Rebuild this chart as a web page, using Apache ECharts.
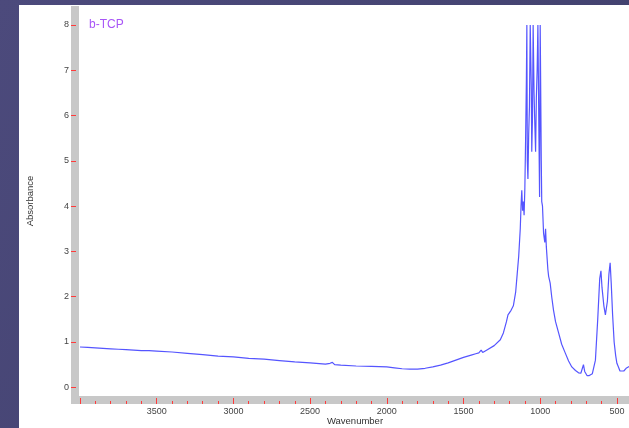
<!DOCTYPE html>
<html>
<head>
<meta charset="utf-8">
<script src="https://cdn.jsdelivr.net/npm/echarts@6/dist/echarts.min.js"></script>
<style>
html,body{margin:0;padding:0;width:629px;height:428px;overflow:hidden;background:#4a4a78;}
#c{width:629px;height:428px;}
</style>
</head>
<body>
<div id="c"></div>
<script>
const titleText = 'b-TCP';
const xName = 'Wavenumber';
const yName = 'Absorbance';
const xTickLabels = [500, 1000, 1500, 2000, 2500, 3000, 3500];
const yTickLabels = [0, 1, 2, 3, 4, 5, 6, 7, 8];
const wavenumber = [
4000,3950,3900,3850,3800,3750,3700,3650,3600,3550,3500,3400,3300,3200,3100,3000,2900,2800,2700,2600,2500,2400,2370,2355,2340,2300,2200,2100,2000,1950,1900,1850,1800,1750,1700,1650,1600,1550,1500,1450,1420,1400,1385,1375,1350,1300,1260,1240,1220,1210,1200,1190,1175,1160,1150,1140,1130,1125,1120,1115,1110,1105,1100,1095,1090,1087,1084,1080,1075,1070,1065,1062,1058,1055,1050,1046,1043,1040,1035,1030,1025,1020,1015,1012,1008,1004,1000,997,993,990,985,978,970,965,960,950,945,935,925,913,900,880,860,837,815,794,770,750,735,725,718,710,695,680,660,640,625,612,604,597,585,575,570,562,552,544,537,528,518,508,500,490,480,467,455,440,420
];
const absorbance = [
0.89,0.88,0.87,0.86,0.85,0.84,0.83,0.82,0.81,0.81,0.80,0.78,0.75,0.72,0.69,0.67,0.64,0.62,0.59,0.56,0.54,0.51,0.53,0.55,0.50,0.49,0.47,0.46,0.45,0.43,0.41,0.40,0.40,0.42,0.45,0.49,0.54,0.60,0.66,0.71,0.74,0.76,0.82,0.77,0.82,0.92,1.05,1.2,1.45,1.6,1.62,1.7,1.8,2.1,2.5,2.9,3.5,4.0,4.35,3.9,4.1,3.8,4.4,5.5,6.8,8,5.0,4.6,5.6,6.2,8,8,6.6,5.2,6.0,8,8,6.5,5.8,5.2,6.4,7.0,8,8,5.5,4.2,8,8,5.0,4.1,4.0,3.4,3.2,3.5,3.1,2.6,2.45,2.3,2.0,1.7,1.45,1.2,0.95,0.76,0.58,0.45,0.37,0.32,0.31,0.42,0.5,0.35,0.26,0.26,0.3,0.6,1.5,2.4,2.57,2.2,1.8,1.6,1.56,1.9,2.5,2.75,2.3,1.6,1.0,0.7,0.53,0.45,0.36,0.32,0.36,0.42,0.46
];

const seriesData = wavenumber.map((w, i) => [w, absorbance[i]]);
const chart = echarts.init(document.getElementById('c'), null, {renderer: 'canvas'});
const font = 'Liberation Sans, Arial, sans-serif';
chart.setOption({
  animation: false,
  backgroundColor: {
    type: 'linear', x: 0, y: 0, x2: 1, y2: 1,
    colorStops: [{offset: 0, color: '#4c4a7c'}, {offset: 1, color: '#3f3f6a'}]
  },
  graphic: [
    {type: 'rect', z: -10, shape: {x: 19, y: 5, width: 610, height: 423}, style: {fill: '#ffffff'}},
    {type: 'rect', z: -5, shape: {x: 71, y: 6, width: 8, height: 398}, style: {fill: '#c8c8c8'}},
    {type: 'rect', z: -5, shape: {x: 71, y: 396, width: 558, height: 8}, style: {fill: '#c8c8c8'}},
    {type: 'text', z: 10, left: 89, top: 19, style: {text: titleText, fill: '#a855f7', font: '12px ' + font}},
    {type: 'text', z: 10, x: 355, y: 421, style: {text: xName, fill: '#333', font: '9.5px ' + font, textAlign: 'center', textVerticalAlign: 'middle'}},
    {type: 'text', z: 10, x: 30, y: 201, rotation: Math.PI / 2, style: {text: yName, fill: '#333', font: '9.5px ' + font, textAlign: 'center', textVerticalAlign: 'middle'}}
  ],
  grid: {left: 80, top: 25, width: 613.6, height: 362.3, containLabel: false, outerBoundsMode: 'none'},
  xAxis: {
    type: 'value', inverse: true, min: 0, max: 4000, interval: 500,
    position: 'bottom', offset: 16.7,
    axisLine: {show: false, onZero: false},
    axisTick: {show: true, inside: true, length: 6, lineStyle: {color: '#ff3b3b', width: 1}},
    minorTick: {show: true, splitNumber: 5, length: 3, lineStyle: {color: '#ff3b3b', width: 1}},
    splitLine: {show: false},
    axisLabel: {
      margin: 3, color: '#444', fontSize: 9, fontFamily: font,
      formatter: v => xTickLabels.includes(v) ? String(v) : ''
    }
  },
  yAxis: {
    type: 'value', min: 0, max: 8, interval: 1,
    position: 'left', offset: 9,
    axisLine: {show: false, onZero: false},
    axisTick: {show: true, inside: true, length: 5, lineStyle: {color: '#ff3b3b', width: 1}},
    splitLine: {show: false},
    axisLabel: {
      margin: 2, color: '#444', fontSize: 9, fontFamily: font,
      formatter: v => yTickLabels.includes(v) ? String(v) : ''
    }
  },
  series: [{
    type: 'line', data: seriesData, showSymbol: false, symbol: 'none',
    clip: true, smooth: false,
    lineStyle: {color: '#5555ff', width: 1.2}
  }]
});
</script>
</body>
</html>
